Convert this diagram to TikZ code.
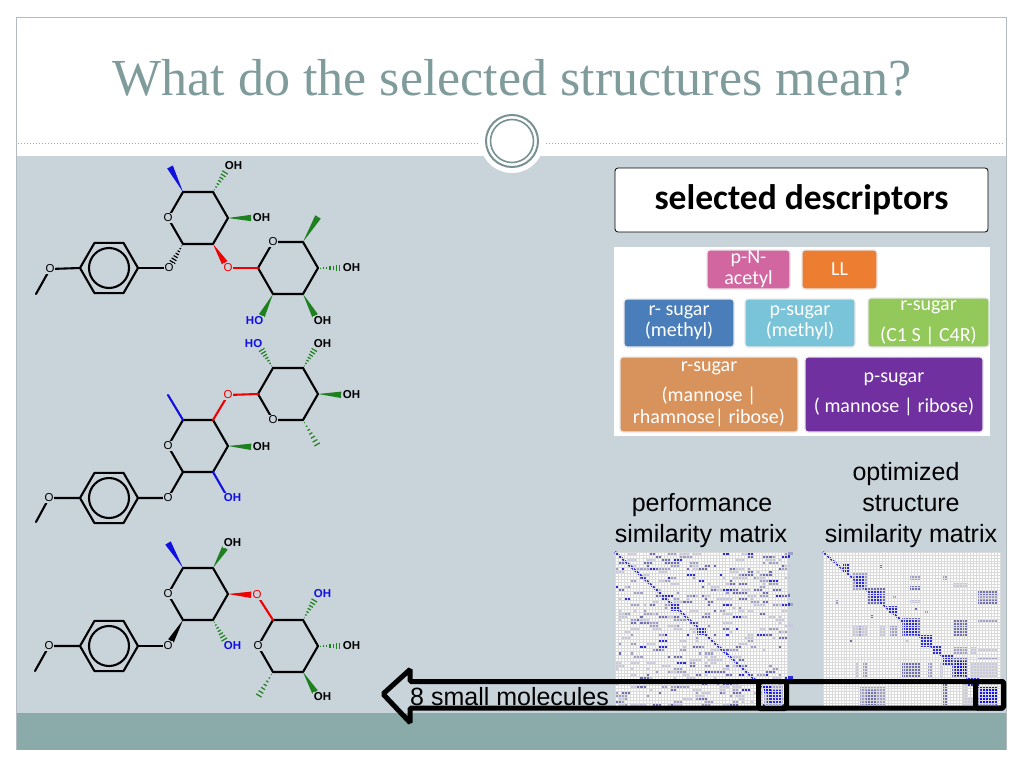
\documentclass[tikz,border=0pt]{standalone}
\usepackage{fontspec}
\setmainfont{Liberation Sans}
\newfontfamily\titlefont{Liberation Serif}
\newfontfamily\calfont{Carlito}
\usetikzlibrary{calc}
\definecolor{bandbg}{RGB}{201,211,218}
\definecolor{teal}{RGB}{139,170,170}
\definecolor{framec}{RGB}{178,188,192}
\definecolor{titlec}{RGB}{127,155,155}
\definecolor{ringc}{RGB}{120,146,148}
\definecolor{dotc}{RGB}{160,168,172}
\definecolor{mblue}{RGB}{16,16,224}
\definecolor{mgreen}{RGB}{30,128,30}
\definecolor{mred}{RGB}{240,0,0}
\definecolor{cPink}{RGB}{210,102,160}
\definecolor{cOrange}{RGB}{237,125,49}
\definecolor{cBlue}{RGB}{74,126,187}
\definecolor{cLBlue}{RGB}{121,196,216}
\definecolor{cGreen}{RGB}{146,201,90}
\definecolor{cTan}{RGB}{216,146,91}
\definecolor{cPurple}{RGB}{112,48,160}
\definecolor{mA}{RGB}{200,200,222}
\definecolor{mB}{RGB}{160,160,200}
\definecolor{mC}{RGB}{112,112,176}
\definecolor{mD}{RGB}{44,44,220}
\definecolor{mE}{RGB}{16,16,240}
\definecolor{gridl}{RGB}{218,218,218}
\newcommand\wdg[4][1]{\fill[#2] (#3) -- ($(#3)!#1!(#4)!3.2pt!90:(#3)$) -- ($(#3)!#1!(#4)!3.2pt!-90:(#3)$) -- cycle;}
\newcommand\hsh[4][1]{\foreach \t in {0.1,0.24,0.38,0.52,0.66,0.8,0.94}{\draw[#2,line width=1.2pt] ($(#3)!{\t*#1}!(#4)!{\t*3.4pt}!90:(#4)$) -- ($(#3)!{\t*#1}!(#4)!{\t*3.4pt}!-90:(#4)$);}}
\newcommand\benz[1]{\draw[bond] ($(#1)+(0:29)$) -- ($(#1)+(60:29)$) -- ($(#1)+(120:29)$) -- ($(#1)+(180:29)$) -- ($(#1)+(240:29)$) -- ($(#1)+(300:29)$) -- cycle; \draw[bond] (#1) circle[radius=20pt];}
\tikzset{
  bond/.style={line width=2.1pt, line join=round, line cap=round},
  lbl/.style={fill=bandbg, inner sep=0.6pt, font=\fontsize{11.5}{11.5}\selectfont},
  ohR/.style={fill=bandbg, inner sep=0.6pt, font=\fontsize{11.5}{11.5}\selectfont\bfseries, anchor=west, xshift=-5pt},
  hoL/.style={fill=bandbg, inner sep=0.6pt, font=\fontsize{11.5}{11.5}\selectfont\bfseries, anchor=east, xshift=5pt},
  dbox/.style={rounded corners=3pt, draw=white!82!gray, line width=1.2pt, text=white, font=\calfont\fontsize{20}{21}\selectfont, align=center, inner sep=0pt},
  mlab/.style={font=\fontsize{25}{25}\selectfont, anchor=base, inner sep=0pt},
  gline/.style={gridl, line width=0.3pt}
}
\begin{document}
\begin{tikzpicture}[x=1pt,y=-1pt]
\useasboundingbox (0,0) rectangle (1024,768);
\fill[white] (0,0) rectangle (1024,768);
% frame and bands
\fill[bandbg] (17,156) rectangle (1006,713);
\fill[teal] (17,713) rectangle (1006,750);
\draw[framec, line width=1pt] (16.5,750) -- (16.5,17.5) -- (1006.5,17.5) -- (1006.5,750);
% title
\node[anchor=base, inner sep=0pt, text=titlec, font=\titlefont\fontsize{52}{52}\selectfont] (title) at (512,95) {What do the selected structures mean?};
% dotted separator and circle ornament
\draw[dotc, line width=1pt, dotted] (18,143) -- (478,143);
\draw[dotc, line width=1pt, dotted] (546,143) -- (1005,143);
\fill[white] (512,141) circle[radius=32pt];
\draw[ringc, line width=2pt] (512,141) circle[radius=26pt];
\draw[ringc, line width=1.6pt] (512,141) circle[radius=21.5pt];

% ---------------- molecule 1 ----------------
\coordinate (m1me) at (36,294); \coordinate (m1om) at (50,269); \coordinate (m1b) at (109,268); \coordinate (m1og) at (169,268);
\coordinate (a0) at (228,218); \coordinate (a1) at (213,192); \coordinate (a2) at (183,192);
\coordinate (a3) at (168,218); \coordinate (a4) at (183,244); \coordinate (a5) at (213,244);
\coordinate (a2me) at (170,167); \coordinate (a1oh) at (229,166); \coordinate (a0oh) at (257,218); \coordinate (aor) at (228,268);
\coordinate (p0) at (318,268); \coordinate (p1) at (303,242); \coordinate (p2) at (273,242);
\coordinate (p3) at (258,268); \coordinate (p4) at (273,294); \coordinate (p5) at (303,294);
\coordinate (p1me) at (318,217); \coordinate (p0oh) at (347,268); \coordinate (p5oh) at (318,321); \coordinate (p4ho) at (259,321);
\draw[bond] (m1me) -- (m1om) -- ($(m1b)+(180:29)$);
\benz{m1b}
\draw[bond] ($(m1b)+(0:29)$) -- (m1og);
\draw[bond] (a0) -- (a1) -- (a2) -- (a3) -- (a4) -- (a5) -- cycle;
\draw[bond] (p0) -- (p1) -- (p2) -- (p3) -- (p4) -- (p5) -- cycle;
\hsh[0.8]{black}{a4}{m1og}
\wdg{mblue}{a2}{a2me}
\hsh[0.8]{mgreen}{a1}{a1oh}
\wdg[0.8]{mgreen}{a0}{a0oh}
\wdg[0.78]{mred}{a5}{aor}
\draw[bond, mred] (aor) -- (p3);
\wdg{mgreen}{p1}{p1me}
\hsh[0.8]{mgreen}{p0}{p0oh}
\wdg[0.8]{mgreen}{p5}{p5oh}
\wdg[0.8]{mgreen}{p4}{p4ho}
\node[lbl] (l1a) at (m1om) {O};
\node[lbl] (l1b) at (m1og) {O};
\node[lbl] (l1c) at (a3) {O};
\node[lbl] (l1d) at (p2) {O};
\node[lbl, text=mred] (l1e) at (aor) {O};
\node[ohR] (l1f) at (a1oh) {OH};
\node[ohR] (l1g) at (a0oh) {OH};
\node[ohR] (l1h) at (p0oh) {OH};
\node[ohR] (l1i) at (p5oh) {OH};
\node[hoL, text=mblue] (l1j) at (p4ho) {HO};

% ---------------- molecule 2 ----------------
\coordinate (m2me) at (36,522); \coordinate (m2om) at (49,498); \coordinate (m2b) at (109,498); \coordinate (m2og) at (168,498);
\coordinate (c0) at (228,446); \coordinate (c1) at (213,420); \coordinate (c2) at (183,420);
\coordinate (c3) at (168,446); \coordinate (c4) at (183,472); \coordinate (c5) at (213,472);
\coordinate (c2me) at (168,395); \coordinate (cor) at (228,395); \coordinate (c0oh) at (257,447); \coordinate (c5oh) at (228,498);
\coordinate (d0) at (318,394); \coordinate (d1) at (303,368); \coordinate (d2) at (273,368);
\coordinate (d3) at (258,394); \coordinate (d4) at (273,420); \coordinate (d5) at (303,420);
\coordinate (d2ho) at (258,344); \coordinate (d1oh) at (318,344); \coordinate (d0oh) at (347,395); \coordinate (d5me) at (318,446);
\draw[bond] (m2me) -- (m2om) -- ($(m2b)+(180:29)$);
\benz{m2b}
\draw[bond] ($(m2b)+(0:29)$) -- (m2og) -- (c4);
\draw[bond] (c0) -- (c1) -- (c2) -- (c3) -- (c4) -- (c5) -- cycle;
\draw[bond] (d0) -- (d1) -- (d2) -- (d3) -- (d4) -- (d5) -- cycle;
\draw[bond, mblue] (c2) -- (c2me);
\draw[bond, mred] (c1) -- (cor) -- (d3);
\wdg[0.8]{mgreen}{c0}{c0oh}
\draw[bond, mblue] (c5) -- (c5oh);
\hsh[0.8]{mgreen}{d2}{d2ho}
\hsh[0.8]{mgreen}{d1}{d1oh}
\wdg[0.8]{mgreen}{d0}{d0oh}
\hsh{mgreen}{d5}{d5me}
\node[lbl] (l2a) at (m2om) {O};
\node[lbl] (l2b) at (m2og) {O};
\node[lbl] (l2c) at (c3) {O};
\node[lbl] (l2d) at (d4) {O};
\node[lbl, text=mred] (l2e) at (cor) {O};
\node[ohR] (l2f) at (c0oh) {OH};
\node[ohR, text=mblue] (l2g) at (c5oh) {OH};
\node[hoL, text=mblue] (l2h) at (d2ho) {HO};
\node[ohR] (l2i) at (d1oh) {OH};
\node[ohR] (l2j) at (d0oh) {OH};

% ---------------- molecule 3 ----------------
\coordinate (m3me) at (35,671); \coordinate (m3om) at (49,646); \coordinate (m3b) at (109,646); \coordinate (m3og) at (168,646);
\coordinate (e0) at (228,594); \coordinate (e1) at (213,568); \coordinate (e2) at (183,568);
\coordinate (e3) at (168,594); \coordinate (e4) at (183,620); \coordinate (e5) at (213,620);
\coordinate (e2me) at (168,543); \coordinate (e1oh) at (228,543); \coordinate (eor) at (257,595); \coordinate (e5oh) at (228,646);
\coordinate (f0) at (318,646); \coordinate (f1) at (303,620); \coordinate (f2) at (273,620);
\coordinate (f3) at (258,646); \coordinate (f4) at (273,672); \coordinate (f5) at (303,672);
\coordinate (f1oh) at (318,594); \coordinate (f0oh) at (347,646); \coordinate (f5oh) at (318,697); \coordinate (f4me) at (258,697);
\draw[bond] (m3me) -- (m3om) -- ($(m3b)+(180:29)$);
\benz{m3b}
\draw[bond] ($(m3b)+(0:29)$) -- (m3og);
\draw[bond] (e0) -- (e1) -- (e2) -- (e3) -- (e4) -- (e5) -- cycle;
\draw[bond] (f0) -- (f1) -- (f2) -- (f3) -- (f4) -- (f5) -- cycle;
\wdg[0.8]{black}{e4}{m3og}
\wdg{mblue}{e2}{e2me}
\wdg[0.8]{mgreen}{e1}{e1oh}
\wdg[0.8]{mred}{e0}{eor}
\hsh[0.8]{mgreen}{e5}{e5oh}
\draw[bond, mred] (eor) -- (f2);
\hsh[0.8]{mgreen}{f1}{f1oh}
\hsh[0.8]{mgreen}{f0}{f0oh}
\wdg[0.8]{mgreen}{f5}{f5oh}
\hsh{mgreen}{f4}{f4me}
\node[lbl] (l3a) at (m3om) {O};
\node[lbl] (l3b) at (m3og) {O};
\node[lbl] (l3c) at (e3) {O};
\node[lbl] (l3d) at (f3) {O};
\node[lbl, text=mred] (l3e) at (eor) {O};
\node[ohR] (l3f) at (e1oh) {OH};
\node[ohR, text=mblue] (l3g) at (e5oh) {OH};
\node[ohR, text=mblue] (l3h) at (f1oh) {OH};
\node[ohR] (l3i) at (f0oh) {OH};
\node[ohR] (l3j) at (f5oh) {OH};

% ---------------- descriptors ----------------
\node[draw=black, line width=0.8pt, fill=white, rounded corners=3pt, minimum width=373pt, minimum height=64pt, inner sep=0pt, font=\calfont\bfseries\fontsize{35.5}{35.5}\selectfont] (seldesc) at (801.5,200) {selected descriptors};
\fill[white] (614,247) rectangle (990,436);
\node[dbox, fill=cPink, minimum width=83pt, minimum height=39pt] (pna) at (748.5,269.5) {p-N-\\acetyl};
\node[dbox, fill=cOrange, minimum width=75pt, minimum height=39pt] (ll) at (839.5,269.5) {LL};
\node[dbox, fill=cBlue, minimum width=110pt, minimum height=48pt] (rsm) at (679,323) {r- sugar\\(methyl)};
\node[dbox, fill=cLBlue, minimum width=110pt, minimum height=48pt] (psm) at (800,323) {p-sugar\\(methyl)};
\node[dbox, fill=cGreen, minimum width=121pt, minimum height=49pt] (rsc) at (928.5,322.5) {r-sugar\\[10pt](C1 S | C4R)};
\node[dbox, fill=cTan, minimum width=178pt, minimum height=75pt] (rsmr) at (709,394.5) {r-sugar\\[9pt](mannose |\\[1pt]rhamnose| ribose)};
\node[dbox, fill=cPurple, minimum width=178pt, minimum height=75pt] (psmr) at (894,394.5) {p-sugar\\[9pt]( mannose | ribose)};

% ---------------- matrix labels ----------------
\node[mlab] (pl1) at (702,511) {performance};
\node[mlab] (pl2) at (701,542) {similarity matrix};
\node[mlab] (ol1) at (906,480) {optimized};
\node[mlab] (ol2) at (911,511) {structure};
\node[mlab] (ol3) at (911,542) {similarity matrix};

% ---------------- left matrix ----------------
\fill[white] (615,552) rectangle (787,709);
\pgfmathsetseed{4711}
\foreach \k in {1,...,460}{
  \pgfmathrandominteger{\ci}{0}{55}
  \pgfmathrandominteger{\cj}{0}{51}
  \pgfmathrandominteger{\cc}{1}{12}
  \pgfmathrandominteger{\cl}{1}{3}
  \ifnum\cc<6 \def\mcol{mA}\else\ifnum\cc<9 \def\mcol{mB}\else\ifnum\cc<12 \def\mcol{mC}\else\def\mcol{mD}\fi\fi\fi
  \fill[\mcol] ({615+\ci*3.0714},{552+\cj*3.019}) rectangle ++({\cl*3.0714},3.019);
}
\draw[mD, line width=2.3pt] (615,552) -- (787,709);
\fill[mD] (671,603) rectangle (680,611);
\fill[mD] (697,627) rectangle (706,635);
\fill[mB] (764,686) rectangle (783,705);
\fill[mD] (767,690) rectangle (781,704);
\fill[mE] (764,686) rectangle (771,693);
\foreach \i in {0,...,56} \draw[gline] ({615+\i*3.0714},552) -- ({615+\i*3.0714},709);
\foreach \j in {0,...,52} \draw[gline] (615,{552+\j*3.019}) -- (787,{552+\j*3.019});

% ---------------- right matrix ----------------
\fill[white] (823,552) rectangle (1000,709);
\foreach \xa/\ya/\xb/\yb/\c in {
  910/575/920/580/mB, 910/586/920/590/mC, 910/600/920/603/mA, 943/575/948/580/mB,
  978/590/998/605/mC, 978/595/998/600/mB, 953/583/967/587/mA, 880/565/883/568/mC,
  852/625/867/637/mA, 858/625/862/637/mB, 880/625/885/637/mA, 890/625/897/637/mB,
  953/620/967/637/mC, 953/647/967/655/mB, 970/647/977/655/mA, 978/657/998/660/mB,
  978/620/998/623/mB, 978/648/998/651/mA, 902/662/920/677/mC, 928/663/933/677/mB,
  940/662/943/677/mA, 970/662/998/677/mA, 863/662/867/677/mB, 855/662/858/677/mA,
  860/687/885/705/mB, 866/690/876/705/mC, 943/683/947/705/mC, 963/683/980/705/mA,
  973/697/998/705/mB, 835/600/838/605/mB, 915/608/918/611/mC, 925/611/928/614/mB,
  850/640/853/643/mC, 893/595/896/598/mB, 905/640/908/643/mA, 870/615/873/618/mC,
  843/563/850/572/mD, 852/573/867/590/mB, 855/576/864/587/mD,
  867/587/885/605/mC, 871/591/881/601/mD, 888/606/897/614/mD,
  902/618/920/637/mC, 904/620/918/635/mD, 920/635/933/647/mD,
  933/645/942/655/mD, 943/655/953/665/mD, 952/658/967/677/mC,
  955/661/966/676/mE, 967/677/980/687/mD, 980/687/997/704/mE}
  \fill[\c] (\xa,\ya) rectangle (\xb,\yb);
\fill[white] (968,686) rectangle (977,697);
\draw[mD, line width=2pt] (823,552) -- (997,704);
\foreach \i in {0,...,60} \draw[gline] ({823+\i*2.95},552) -- ({823+\i*2.95},709);
\foreach \j in {0,...,54} \draw[gline] (823,{552+\j*2.907}) -- (1000,{552+\j*2.907});

% ---------------- arrow ----------------
\draw[black, line width=5pt, rounded corners=1.5pt] (383,694) -- (410,669.5) -- (410,681.5) -- (1003.5,681.5) -- (1003.5,708) -- (410,708) -- (410,722.5) -- cycle;
\draw[black, line width=5pt, rounded corners=2pt] (758.5,681.5) rectangle (786.5,708.5);
\draw[black, line width=5pt, rounded corners=2pt] (975.5,681.5) rectangle (1003.5,708);
\node[anchor=base west, inner sep=0pt, font=\fontsize{25}{25}\selectfont] (mol8) at (410,705) {8 small molecules};
\end{tikzpicture}
\end{document}
